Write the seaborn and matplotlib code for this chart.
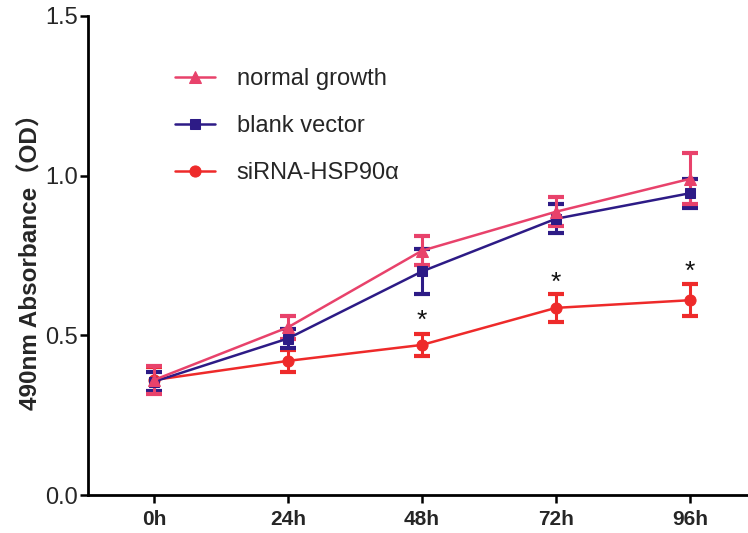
import numpy as np
import pandas as pd
import matplotlib
matplotlib.use("Agg")
import matplotlib.pyplot as plt
import seaborn as sns

# ---- data ----
hours = [0, 24, 48, 72, 96]
hour_labels = ["0h", "24h", "48h", "72h", "96h"]

normal_mean = [0.36, 0.525, 0.765, 0.887, 0.99]
normal_err = [0.045, 0.035, 0.045, 0.045, 0.08]
blank_mean = [0.355, 0.49, 0.70, 0.865, 0.945]
blank_err = [0.03, 0.03, 0.07, 0.045, 0.045]
sirna_mean = [0.36, 0.42, 0.47, 0.586, 0.61]
sirna_err = [0.04, 0.035, 0.035, 0.045, 0.05]

star_hours = [48, 72, 96]
star_y = [0.545, 0.665, 0.70]

series = [
    ("siRNA-HSP90α", sirna_mean, sirna_err, "#EE2A2A", "o", 8),
    ("blank vector", blank_mean, blank_err, "#2D1B86", "s", 7),
    ("normal growth", normal_mean, normal_err, "#E8426B", "^", 8),
]
legend_order = ["normal growth", "blank vector", "siRNA-HSP90α"]

sns.set_style("ticks")
plt.rcParams['font.family'] = ['Liberation Sans', 'Noto Sans CJK SC', 'DejaVu Sans']

fig = plt.figure(figsize=(7.48, 5.33), dpi=100)
ax = fig.add_axes([88 / 748, 38 / 533, 1 - 88 / 748, (495 - 16) / 533])

rows = []
for name, m, e, c, mk, ms in series:
    for h, v in zip(hours, m):
        rows.append({"hour": h, "od": v, "group": name})
df = pd.DataFrame(rows)

for name, m, e, c, mk, ms in series:
    ax.errorbar(hours, m, yerr=e, fmt="none", ecolor=c, elinewidth=2.2,
                capsize=6, capthick=3, zorder=2)
    sub = df[df["group"] == name]
    sns.lineplot(data=sub, x="hour", y="od", color=c, marker=mk,
                 markersize=ms, markeredgecolor=c, linewidth=1.8,
                 label=name, ax=ax, zorder=3)

for h, y in zip(star_hours, star_y):
    ax.text(h, y, "*", ha="center", va="center", fontsize=19, color="#111111")

ax.set_xlim(-11.8, 106.4)
ax.set_ylim(0, 1.5)
ax.set_xticks(hours)
ax.set_xticklabels(hour_labels, fontsize=15, fontweight="bold")
ax.set_yticks([0.0, 0.5, 1.0, 1.5])
ax.set_yticklabels(["0.0", "0.5", "1.0", "1.5"], fontsize=17)
ax.set_xlabel("")
ax.set_ylabel("490nm Absorbance（OD）", fontsize=17.5, fontweight="bold", labelpad=2)
ax.tick_params(axis="x", direction="out", length=6, width=1.8, color="black", pad=5)
ax.tick_params(axis="y", direction="out", length=6, width=1.8, color="black", pad=1)
for side in ["left", "bottom"]:
    ax.spines[side].set_linewidth(2)
    ax.spines[side].set_color("black")
for side in ["top", "right"]:
    ax.spines[side].set_visible(False)

handles, labels = ax.get_legend_handles_labels()
hmap = dict(zip(labels, handles))
ax.legend([hmap[n] for n in legend_order], legend_order, loc="upper left",
          bbox_to_anchor=(0.1, 0.935), frameon=False, fontsize=17,
          labelspacing=1.05, handlelength=1.7, handletextpad=0.9)

fig.savefig("out.png", dpi=100)
